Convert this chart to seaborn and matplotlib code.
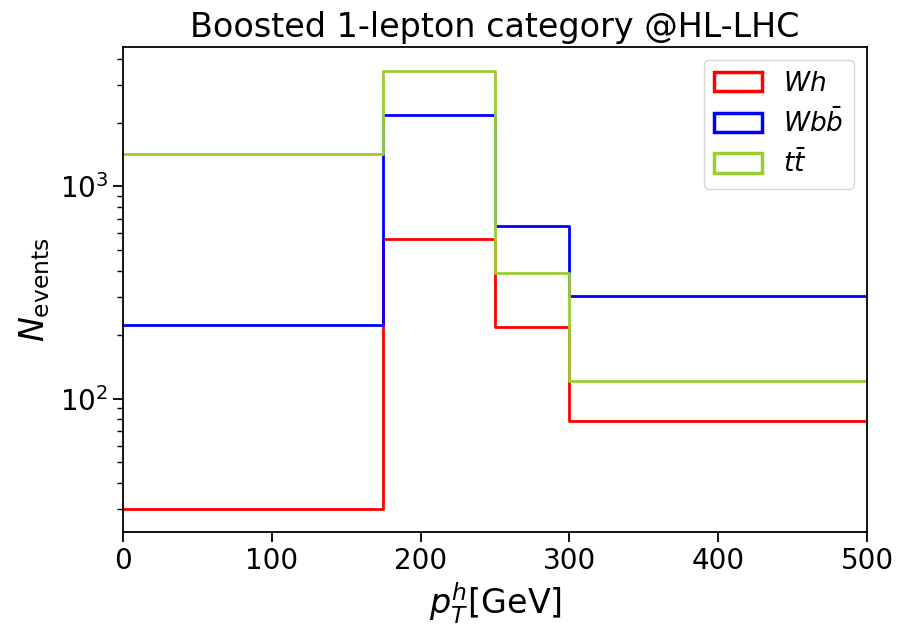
import numpy as np
import matplotlib
matplotlib.use("Agg")
import matplotlib.pyplot as plt
from matplotlib.patches import Patch
import seaborn as sns

# Binning in Higgs transverse momentum [GeV]
bin_edges = [0, 175, 250, 300, 500]

# Expected event yields per bin
wh_counts = [30, 565, 218, 78]
wbb_counts = [223, 2180, 650, 303]
tt_counts = [1415, 3510, 390, 121]

series_labels = [r"$Wh$", r"$Wb\bar{b}$", r"$t\bar{t}$"]
series_counts = [wh_counts, wbb_counts, tt_counts]
series_colors = ["red", "blue", "yellowgreen"]

sns.set_style("ticks")
plt.rcParams["font.family"] = ["DejaVu Sans"]
plt.rcParams.update({
    "text.color": "black",
    "axes.labelcolor": "black",
    "xtick.color": "black",
    "ytick.color": "black",
    "axes.edgecolor": "black",
})

fig = plt.figure(figsize=(8.99, 6.25), dpi=100)
ax = fig.add_axes([123 / 899, 1 - 532 / 625, (867 - 123) / 899, (532 - 47) / 625])

centers = 0.5 * (np.array(bin_edges[:-1]) + np.array(bin_edges[1:]))
for counts, color in zip(series_counts, series_colors):
    sns.histplot(x=centers, weights=counts, bins=bin_edges, element="step",
                 fill=False, color=color, linewidth=2.0, ax=ax)

ax.set_yscale("log")
ax.set_xlim(0, 500)
ax.set_ylim(23.5, 4540)
ax.set_title("Boosted 1-lepton category @HL-LHC", fontsize=24, pad=7)
ax.set_xlabel(r"$p_T^h$[GeV]", fontsize=24)
ax.set_ylabel(r"$N_{\rm events}$", fontsize=24, labelpad=6)
ax.tick_params(axis="both", which="major", labelsize=20, length=7, width=1.3)
ax.tick_params(axis="y", which="minor", length=4, width=1.0)
for sp in ax.spines.values():
    sp.set_linewidth(1.3)
    sp.set_color("black")

handles = [Patch(facecolor="none", edgecolor=c, linewidth=2.5) for c in series_colors]
ax.legend(handles, series_labels, loc="upper right", fontsize=19,
          handlelength=1.8, handleheight=0.75, labelspacing=0.45)

fig.savefig("out.png", dpi=100)
